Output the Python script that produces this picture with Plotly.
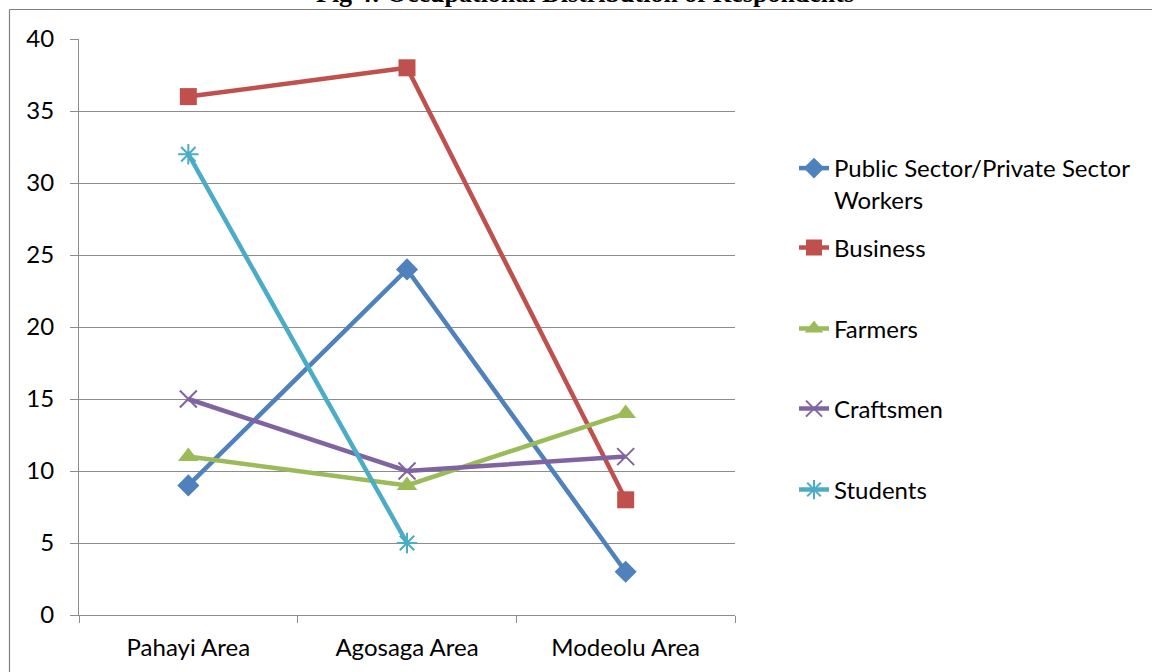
import plotly.graph_objects as go

# Survey areas and respondent counts per occupation
areas = ["Pahayi Area", "Agosaga Area", "Modeolu Area"]
public_private = [9, 24, 3]
business = [36, 38, 8]
farmers = [11, 9, 14]
craftsmen = [15, 10, 11]
students = [32, 5, None]

y_ticks = [0, 5, 10, 15, 20, 25, 30, 35, 40]

series = [
    ("Public Sector/Private Sector<br>Workers", public_private, "#4F81BD", "diamond", 17, 0),
    ("Business", business, "#C0504D", "square", 17, 0),
    ("Farmers", farmers, "#9BBB59", "triangle-up", 18, 0),
    ("Craftsmen", craftsmen, "#8064A2", "x-thin", 17, 2),
    ("Students", students, "#4BACC6", "asterisk", 17, 2),
]

W, H = 1152, 672
L, R, T, B = 79, 735, 39, 615  # plot area in pixels


def px_x(x):
    return (x - L) / (R - L)


def px_y(y):
    return (B - y) / (B - T)


FONT = "Lato"
FS = 24
fig = go.Figure()

legend_names = ["legend", "legend2", "legend3", "legend4", "legend5"]
legend_rows = [168, 248, 329, 409, 490]

for i, (name, vals, color, sym, msize, mlw) in enumerate(series):
    marker = dict(symbol=sym, size=msize, color=color)
    if mlw:
        marker["line"] = dict(color=color, width=mlw)
    fig.add_trace(go.Scatter(
        x=areas, y=vals, name=name, mode="lines+markers",
        line=dict(color=color, width=4.5),
        marker=marker,
        legend=legend_names[i],
        showlegend=True,
    ))

layout_legends = {}
for i, ln in enumerate(legend_names):
    spec = dict(
        x=px_x(794), xanchor="left",
        font=dict(family=FONT, size=FS, color="black"),
        bgcolor="rgba(0,0,0,0)",
        visible=True,
    )
    if i == 0:
        spec.update(y=px_y(legend_rows[i] - 22), yanchor="top", valign="top")
    else:
        spec.update(y=px_y(legend_rows[i]), yanchor="middle")
    layout_legends[ln] = spec

grid = "#8C8C8C"

fig.update_layout(
    width=W, height=H,
    showlegend=True,
    margin=dict(l=L, r=W - R, t=T, b=H - B, pad=0, autoexpand=False),
    paper_bgcolor="white",
    plot_bgcolor="white",
    font=dict(family=FONT, size=FS, color="black"),
    xaxis=dict(
        type="category",
        range=[-0.5, 2.5],
        tickson="boundaries",
        ticks="outside", ticklen=7, tickcolor=grid, tickwidth=1,
        showgrid=False,
        showline=True, linecolor=grid, linewidth=1,
        tickfont=dict(family=FONT, size=FS, color="black"),
        ticklabelstandoff=11,
        automargin=False,
    ),
    yaxis=dict(
        range=[0, 40],
        tickvals=y_ticks,
        ticks="outside", ticklen=8, tickcolor=grid, tickwidth=1,
        showgrid=True, gridcolor=grid, gridwidth=1,
        showline=True, linecolor=grid, linewidth=1,
        zeroline=False,
        tickfont=dict(family=FONT, size=FS, color="black"),
        ticklabelstandoff=11,
        automargin=False,
    ),
    **layout_legends,
)

# Chart frame (top and left edges)
fig.add_shape(type="line", xref="paper", yref="paper",
              x0=px_x(9.5), x1=px_x(1160), y0=px_y(9.5), y1=px_y(9.5),
              line=dict(color="#808080", width=1.2))
fig.add_shape(type="line", xref="paper", yref="paper",
              x0=px_x(9.5), x1=px_x(9.5), y0=px_y(9.5), y1=px_y(680),
              line=dict(color="#808080", width=1.2))

fig.add_annotation(
    text="<b>Fig 4: Occupational Distribution of Respondents</b>",
    xref="paper", yref="paper",
    x=px_x(585), y=px_y(10), xanchor="center", yanchor="bottom",
    showarrow=False,
    font=dict(family="Liberation Serif", size=26, color="black"),
)

fig.write_html("out.html")
